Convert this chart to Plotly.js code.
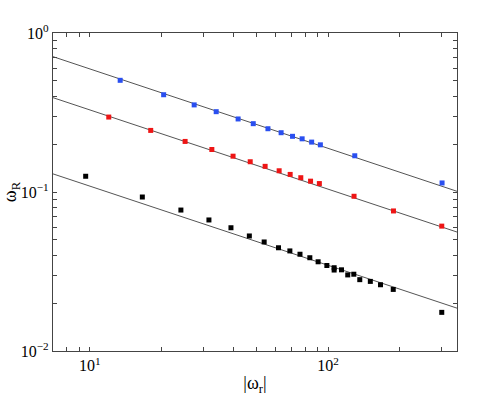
<!DOCTYPE html>
<html>
<head>
<meta charset="utf-8">
<script src="https://cdn.plot.ly/plotly-3.0.1.min.js"></script>
<style>
  html, body { margin: 0; padding: 0; background: #fff; }
  #chart { width: 491px; height: 396px; }
</style>
</head>
<body>
<div id="chart"></div>
<script>
// values
const blueX = [13.4, 20.4, 27.4, 33.9, 41.9, 48.5, 55.9, 63.5, 70.9, 77.8, 85.3, 92.8, 129.4, 300.9];
const blueY = [0.504, 0.409, 0.353, 0.320, 0.288, 0.269, 0.250, 0.236, 0.224, 0.216, 0.206, 0.198, 0.169, 0.114];

const redX = [12.0, 18.0, 25.1, 32.5, 39.9, 47.1, 54.4, 62.3, 69.3, 76.8, 84.4, 91.9, 128.5, 188.1, 300.0];
const redY = [0.296, 0.244, 0.208, 0.185, 0.168, 0.155, 0.145, 0.136, 0.129, 0.123, 0.117, 0.113, 0.094, 0.076, 0.061];

const blackX = [9.6, 16.6, 24.1, 31.6, 39.1, 46.7, 53.9, 61.9, 69.1, 76.2, 83.8, 90.8, 98.8, 106.0, 106.0,
  113.8, 120.9, 128.2, 135.8, 150.4, 165.9, 187.7, 300.0];
const blackY = [0.1256, 0.0930, 0.0770, 0.0667, 0.0596, 0.0529, 0.0485, 0.0446, 0.0426, 0.0406, 0.0386, 0.0364,
  0.0345, 0.0334, 0.0323, 0.0324, 0.0301, 0.0304, 0.0281, 0.0274, 0.0261, 0.0244, 0.0175];

// fitted power-law lines, end points read at the axis limits
const fitX = [7, 347.6];
const blueFit = [0.710, 0.101];
const redFit = [0.392, 0.056];
const blackFit = [0.130, 0.0186];

const xTickVals = [7, 8, 9, 10, 20, 30, 40, 50, 60, 70, 80, 90, 100, 200, 300];
const xTickText = ["", "", "", "10<sup>1</sup>", "", "", "", "", "", "", "", "", "10<sup>2</sup>", "", ""];
const yTickVals = [0.01, 0.02, 0.03, 0.04, 0.05, 0.06, 0.07, 0.08, 0.09, 0.1,
  0.2, 0.3, 0.4, 0.5, 0.6, 0.7, 0.8, 0.9, 1];
const yTickText = ["10<sup>\u22122</sup>", "", "", "", "", "", "", "", "", "10<sup>\u22121</sup>",
  "", "", "", "", "", "", "", "", "10<sup>0</sup>"];

const serif = "Liberation Serif, Times New Roman, serif";

function fitTrace(y) {
  return {
    x: fitX, y, type: "scatter", mode: "lines",
    line: { color: "#555", width: 1 },
    hoverinfo: "skip",
  };
}

function dots(x, y, color) {
  return {
    x, y, type: "scatter", mode: "markers",
    marker: { symbol: "square", size: 5, color, line: { width: 0 } },
  };
}

const axisBase = {
  type: "log",
  showgrid: false,
  zeroline: false,
  showline: true,
  linecolor: "#444",
  linewidth: 1.2,
  mirror: "ticks",
  ticks: "inside",
  ticklen: 4,
  tickcolor: "#444",
  tickmode: "array",
  tickfont: { family: serif, size: 16, color: "#000" },
};

Plotly.newPlot(
  "chart",
  [
    fitTrace(blueFit),
    fitTrace(redFit),
    fitTrace(blackFit),
    dots(blueX, blueY, "#2a4ff0"),
    dots(redX, redY, "#ee1515"),
    dots(blackX, blackY, "#000"),
  ],
  {
    width: 491,
    height: 396,
    showlegend: false,
    margin: { l: 53, r: 34, t: 33, b: 45 },
    paper_bgcolor: "#fff",
    plot_bgcolor: "#fff",
    xaxis: {
      ...axisBase,
      range: [Math.log10(7), Math.log10(347.6)],
      tickvals: xTickVals,
      ticktext: xTickText,
      title: { text: "|\u03c9<sub>r</sub>|", font: { family: serif, size: 18, color: "#000" }, standoff: 3 },
    },
    yaxis: {
      ...axisBase,
      range: [-2, 0],
      tickvals: yTickVals,
      ticktext: yTickText,
      title: { text: "\u03c9<sub>R</sub>", font: { family: serif, size: 18, color: "#000" }, standoff: 0 },
    },
  },
  { displayModeBar: false, staticPlot: true },
);
</script>
</body>
</html>
